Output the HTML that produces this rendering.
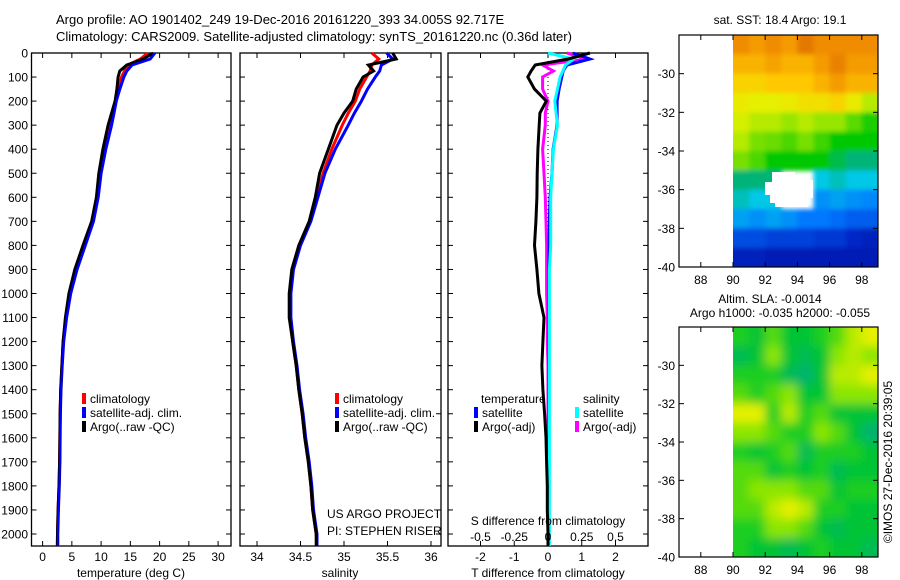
<!DOCTYPE html>
<html><head><meta charset="utf-8">
<style>
html,body{margin:0;padding:0;background:#fff;}
svg{display:block;font-family:"Liberation Sans",sans-serif;}
text{font-size:12px;fill:#000;}
</style></head>
<body>
<svg id="fig" width="900" height="580" viewBox="0 0 900 580" xmlns="http://www.w3.org/2000/svg">
<defs>
<filter id="blurS" x="-5%" y="-5%" width="110%" height="110%"><feGaussianBlur stdDeviation="2.5"/></filter>
<filter id="blurL" x="-5%" y="-5%" width="110%" height="110%"><feGaussianBlur stdDeviation="5"/></filter>
<clipPath id="clipTop"><rect x="733" y="35" width="145" height="232"/></clipPath>
<clipPath id="clipBot"><rect x="733" y="327" width="145" height="230"/></clipPath>
</defs>
<rect width="900" height="580" fill="#fff"/>
<text x="56" y="24" style="font-size:13px">Argo profile: AO 1901402_249 19-Dec-2016 20161220_393 34.005S 92.717E</text>
<text x="56" y="41" style="font-size:13px">Climatology: CARS2009. Satellite-adjusted climatology: synTS_20161220.nc (0.36d later)</text>
<g id="g"></g>
</svg>
<script>
// ---------- data ----------
const depths = [0,25,50,75,100,150,200,250,300,400,500,600,700,800,900,1000,1100,1200,1300,1400,1500,1600,1700,1800,1900,2000,2050];
const tempClim = [18.0,16.7,14.6,14.0,13.5,13.0,12.5,12.0,11.4,10.5,9.8,9.4,8.6,7.2,5.8,4.7,4.0,3.5,3.3,3.1,3.0,2.95,2.9,2.8,2.65,2.55,2.5];
const tempSat  = [19.2,18.4,15.3,14.4,13.9,13.2,12.6,12.2,11.8,10.8,10.0,9.5,8.7,7.3,5.9,4.8,4.1,3.6,3.35,3.15,3.05,3.0,2.95,2.85,2.7,2.6,2.6];
const tempArgo = [18.9,17.2,14.4,13.2,12.9,12.7,12.4,11.8,11.2,10.3,9.6,9.2,8.4,6.9,5.5,4.5,3.9,3.5,3.3,3.1,3.0,2.95,2.9,2.8,2.65,2.55,2.55];
const salClim = [35.32,35.40,35.32,35.30,35.26,35.18,35.13,35.05,34.98,34.86,34.76,34.69,34.61,34.49,34.41,34.38,34.38,34.41,34.45,34.48,34.52,34.55,34.59,34.62,34.64,34.68,34.69];
const salSat  = [35.49,35.56,35.43,35.41,35.36,35.27,35.20,35.12,35.05,34.90,34.78,34.70,34.62,34.50,34.42,34.39,34.39,34.42,34.46,34.49,34.53,34.56,34.60,34.63,34.65,34.69,34.69];
const salArgo = [35.56,35.60,35.28,35.34,35.22,35.14,35.10,35.00,34.92,34.82,34.72,34.67,34.60,34.48,34.40,34.37,34.37,34.41,34.45,34.48,34.52,34.55,34.59,34.62,34.64,34.68,34.68];
const dTsat  = [0.74,1.24,0.56,0.45,0.41,0.33,0.27,0.27,0.27,0.15,0.12,0.06,0.04,0.03,0.03,0.03,0.03,0.03,0.03,0.03,0.03,0.03,0.03,0.03,0.03,0.03,0.03];
const dTargo = [1.24,0.6,-0.38,-0.5,-0.6,-0.4,-0.05,-0.24,-0.26,-0.3,-0.32,-0.33,-0.36,-0.4,-0.33,-0.27,-0.12,-0.15,-0.18,-0.15,-0.1,-0.06,-0.04,-0.02,-0.02,0.0,0.0];
const dSsat  = [0.0,0.19,0.13,0.11,0.09,0.07,0.05,0.06,0.07,0.04,0.03,0.02,0.02,0.02,0.01,0.01,0.01,0.01,0.01,0.01,0.01,0.01,0.01,0.01,0.01,0.01,0.01];
const dSargo = [0.14,0.29,-0.04,0.04,-0.04,-0.04,0.0,-0.02,-0.02,-0.04,-0.03,-0.02,-0.015,-0.01,-0.01,-0.01,-0.005,-0.005,0.0,0.0,0.0,0.0,0.0,0.0,0.0,0.0,0.0];
const depthTicks = [0,100,200,300,400,500,600,700,800,900,1000,1100,1200,1300,1400,1500,1600,1700,1800,1900,2000];
const tempTicks = [0,5,10,15,20,25,30];
const salTicks = [34,34.5,35,35.5,36];
const salTickLabels = ["34","34.5","35","35.5","36"];
const dTTicks = [-2,-1,0,1,2];
const dSTicks = [-0.5,-0.25,0,0.25,0.5];
const dSTickLabels = ["-0.5","-0.25","0","0.25","0.5"];
const latTicks = [-30,-32,-34,-36,-38,-40];
const lonTicks = [88,90,92,94,96,98];
// SST grid (colour index 0..1), rows lat -28..-40, cols lon 90..99; null = missing
const sstGrid = [
[0.80,0.78,0.80,0.78,0.84,0.80,0.80,0.80,0.80],
[0.75,0.75,0.77,0.75,0.75,0.78,0.82,0.78,0.78],
[0.70,0.70,0.72,0.72,0.72,0.75,0.78,0.75,0.75],
[0.66,0.65,0.65,0.66,0.68,0.68,0.70,0.66,0.62],
[0.64,0.62,0.62,0.60,0.62,0.60,0.60,0.56,0.52],
[0.62,0.58,0.57,0.55,0.58,0.54,0.50,0.50,0.50],
[0.58,0.55,0.50,0.50,0.50,0.50,0.47,0.45,0.45],
[0.45,0.45,0.45,null,null,0.40,0.42,0.40,0.40],
[0.42,0.40,0.40,null,null,0.33,0.35,0.33,0.32],
[0.35,0.33,0.35,0.33,0.30,0.30,0.28,0.25,0.25],
[0.22,0.22,0.20,0.20,0.20,0.18,0.18,0.15,0.12],
[0.12,0.12,0.10,0.10,0.10,0.10,0.10,0.10,0.10]];
const slaGrid = [
[0.4,0.3,0.5,0.3,0.3,0.4,0.5,0.7,0.8],
[0.2,0.3,0.6,0.3,0.2,0.3,0.6,0.7,0.6],
[0.4,0.4,0.4,0.2,0.1,0.3,0.7,0.7,0.8],
[0.5,0.4,0.5,0.6,0.3,0.3,0.6,0.6,0.6],
[0.8,0.8,0.4,0.7,0.4,0.5,0.3,0.3,0.3],
[0.6,0.6,0.5,0.4,0.4,0.6,0.5,0.3,0.1],
[0.4,0.3,0.4,0.5,0.2,0.4,0.4,0.4,0.3],
[0.5,0.5,0.3,0.4,0.3,0.4,0.2,0.3,0.3],
[0.5,0.6,0.6,0.6,0.5,0.5,0.3,0.4,0.4],
[0.5,0.5,0.7,0.8,0.7,0.4,0.4,0.3,0.3],
[0.4,0.4,0.6,0.6,0.5,0.3,0.2,0.3,0.3],
[0.4,0.3,0.3,0.2,0.3,0.4,0.3,0.3,0.2]];

// ---------- helpers ----------
const NS="http://www.w3.org/2000/svg";
const G=document.getElementById('g');
function el(tag,attrs,parent){const e=document.createElementNS(NS,tag);for(const k in attrs)e.setAttribute(k,attrs[k]);(parent||G).appendChild(e);return e;}
function txt(x,y,s,anchor,parent){const e=el('text',{x:x,y:y,'text-anchor':anchor||'start'},parent);e.textContent=s;return e;}
const Y0=53,YS=0.2405;
const yD=d=>Y0+d*YS;
const xT=t=>42.6+t*5.85;
const xS=s=>257+(s-34)*87;
const xDT=v=>548+v*33.75;
const xDS=v=>548+v*135;
const BOT=546;

function box(x1,x2,name){
  const r=el('rect',{x:x1,y:Y0,width:x2-x1,height:BOT-Y0,fill:'none',stroke:'#000','stroke-width':1.3});
  
  
}
function depthTicksOn(x1,x2,labels){
  depthTicks.forEach(d=>{
    el('line',{x1:x1,x2:x1+5,y1:yD(d),y2:yD(d),stroke:'#000'});
    el('line',{x1:x2,x2:x2-5,y1:yD(d),y2:yD(d),stroke:'#000'});
    if(labels){const t=txt(28,yD(d)+4.5,String(d),'end');
      
      }
  });
}
function line(xs,xf,color,name,w){
  const pts=depths.map((d,i)=>xf(xs[i]).toFixed(1)+','+yD(d).toFixed(1)).join(' ');
  const p=el('polyline',{points:pts,fill:'none',stroke:color,'stroke-width':w||3,'stroke-linejoin':'miter'});
  
  
}
function xTicks(vals,labels,xf,ly){
  vals.forEach((v,i)=>{
    el('line',{x1:xf(v),x2:xf(v),y1:BOT,y2:BOT-5,stroke:'#000'});
    el('line',{x1:xf(v),x2:xf(v),y1:Y0,y2:Y0+5,stroke:'#000'});
    const t=txt(xf(v),ly,labels[i],'middle');
    
    
  });
}
function legend(x,y,color,label){
  el('rect',{x:x-2,y:y-6,width:4,height:11,fill:color});
  const t=txt(x+6,y+4,label);
  
  
}

// ---------- panel 1: temperature ----------
box(31.5,231,'temperature-panel');
depthTicksOn(31.5,231,true);
xTicks(tempTicks,tempTicks.map(String),xT,561);
line(tempClim,xT,'#f00','temp-climatology-line');
line(tempSat,xT,'#00f','temp-satellite-line');
line(tempArgo,xT,'#000','temp-argo-line');
line(tempSat,xT,'#00f','temp-satellite-line-top',2);
let t1=txt(131,577,'temperature (deg C)','middle');
legend(84,399,'#f00','climatology');legend(84,413,'#00f','satellite-adj. clim.');legend(84,427,'#000','Argo(..raw -QC)');

// ---------- panel 2: salinity ----------
box(240,441,'salinity-panel');
depthTicksOn(240,441,false);
xTicks(salTicks,salTickLabels,xS,561);
line(salClim,xS,'#f00','sal-climatology-line');
line(salSat,xS,'#00f','sal-satellite-line');
line(salArgo,xS,'#000','sal-argo-line');
let t2=txt(340,577,'salinity','middle');
legend(337,399,'#f00','climatology');legend(337,413,'#00f','satellite-adj. clim.');legend(337,427,'#000','Argo(..raw -QC)');
let u1=txt(327,518,'US ARGO PROJECT');
let u2=txt(327,535,'PI: STEPHEN RISER');

// ---------- panel 3: differences ----------
box(448,648,'difference-panel');
depthTicksOn(448,648,false);
xTicks(dTTicks,dTTicks.map(String),xDT,561);
el('line',{x1:xDT(0),x2:xDT(0),y1:Y0,y2:BOT,stroke:'#000','stroke-dasharray':'1,3'});
line(dSargo,xDS,'#f0f','sal-argo-diff-line');
line(dTsat,xDT,'#00f','temp-satellite-diff-line');
line(dSsat,xDS,'#0ff','sal-satellite-diff-line');
line(dTargo,xDT,'#000','temp-argo-diff-line');
dSTicks.forEach((v,i)=>{const t=txt(xDS(v),541,dSTickLabels[i],'middle');});
let t3=txt(548,525,'S difference from climatology','middle');
let t4=txt(548,577,'T difference from climatology','middle');
let t5=txt(481,403,'temperature');
let t6=txt(583,403,'salinity');
legend(476,413,'#00f','satellite');legend(476,427,'#000','Argo(-adj)');
legend(577,413,'#0ff','satellite');legend(577,427,'#f0f','Argo(-adj)');

// ---------- maps ----------
function interp(stops,v){
  for(let i=1;i<stops.length;i++){if(v<=stops[i][0]){const a=stops[i-1],b=stops[i];const f=(v-a[0])/(b[0]-a[0]);
    return 'rgb('+[1,2,3].map(k=>Math.round(a[k]+(b[k]-a[k])*f)).join(',')+')';}}
  const l=stops[stops.length-1];return 'rgb('+l[1]+','+l[2]+','+l[3]+')';
}
const sstStops=[[0,0,0,140],[0.15,0,40,200],[0.3,0,120,255],[0.4,0,200,230],[0.45,0,180,120],[0.5,0,200,0],[0.6,150,230,0],[0.65,230,240,0],[0.72,255,200,0],[0.8,240,140,0],[0.9,210,90,0],[1,170,40,0]];
const slaStops=[[0,0,170,140],[0.35,0,200,40],[0.6,140,230,0],[0.8,230,240,0],[1,240,200,0]];
function map(top,bot,grid,stops,name,clip,filt){
  const xL=v=>733+(v-90)*16.1;
  const yL=v=>top+(-28-v)*((bot-top)/12);
  const outer=el('g',{'clip-path':'url(#'+clip+')'});
  
  
  const g=el('g',{filter:'url(#'+filt+')'},outer);
  // padded background so blur edges stay coloured
  grid.forEach((row,r)=>row.forEach((v,c)=>{
    if(v===null)return;
    const x1=xL(90+c),y1=yL(-28-r);
    const x0=c===0?x1-10:x1, w=(c===row.length-1?xL(91+c)+10:xL(91+c))-x0+0.5;
    const y0=r===0?y1-10:y1, h=(r===grid.length-1?yL(-29-r)+10:yL(-29-r))-y0+0.5;
    const cell=el('rect',{x:x0,y:y0,width:w,height:h,fill:interp(stops,v)},g);
    
    
  }));
  el('rect',{x:679,y:top,width:199,height:bot-top,fill:'none',stroke:'#000','stroke-width':1.2});
  latTicks.forEach(v=>{el('line',{x1:679,x2:684,y1:yL(v),y2:yL(v),stroke:'#000'});el('line',{x1:878,x2:873,y1:yL(v),y2:yL(v),stroke:'#000'});
    const t=txt(675,yL(v)+4.5,String(v),'end');});
  lonTicks.forEach(v=>{el('line',{x1:xL(v),x2:xL(v),y1:bot,y2:bot-5,stroke:'#000'});el('line',{x1:xL(v),x2:xL(v),y1:top,y2:top+5,stroke:'#000'});
    const t=txt(xL(v),bot+17,String(v),'middle');});
}
map(35,267,sstGrid,sstStops,'sst-map','clipTop','blurS');
// missing (cloud) patch near the Argo location
const miss=el('polygon',{points:'765,182 772,182 772,172 795,172 795,180 813,180 813,198 808,198 808,207 775,207 775,203 770,203 770,195 765,195',fill:'#fff'});


map(327,557,slaGrid,slaStops,'sla-map','clipBot','blurL');
let m1=txt(780,24,'sat. SST: 18.4  Argo: 19.1','middle');
let m2=txt(770,303,'Altim. SLA: -0.0014','middle');
let m3=txt(780,317,'Argo h1000: -0.035 h2000: -0.055','middle');
let c=txt(0,0,'©IMOS 27-Dec-2016 20:39:05','middle');c.setAttribute('transform','translate(892,462) rotate(-90)');

</script>
</body></html>
